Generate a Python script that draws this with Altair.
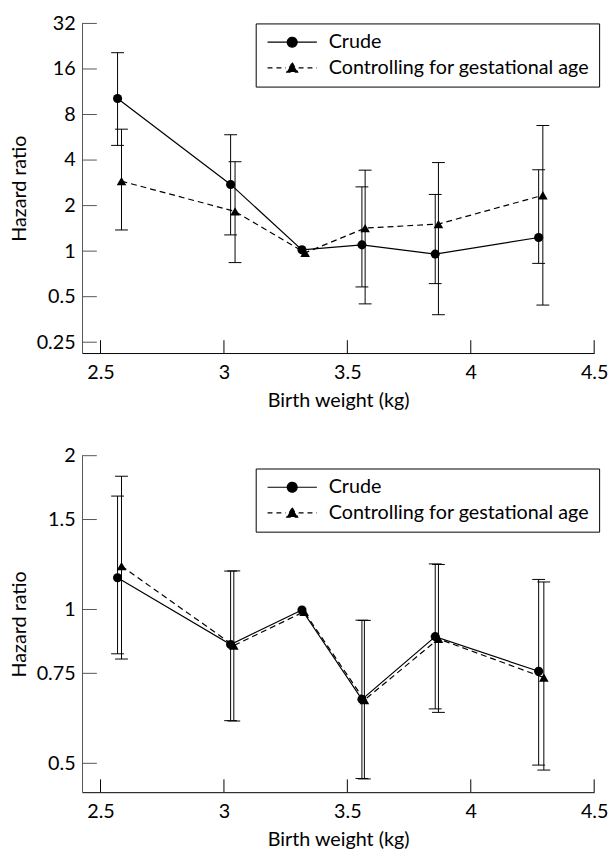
import altair as alt
import pandas as pd

series = ["Crude", "Controlling for gestational age"]
x_ticks = [2.5, 3, 3.5, 4, 4.5]

# ---- top panel ----
bw_crude_top = [2.569, 3.027, 3.316, 3.559, 3.856, 4.275]
bw_adj_top = [2.585, 3.045, 3.329, 3.572, 3.869, 4.292]
hr_crude_top = [10.2, 2.76, 1.02, 1.10, 0.956, 1.23]
lo_crude_top = [5.0, 1.28, None, 0.58, 0.61, 0.83]
hi_crude_top = [20.5, 5.88, None, 2.66, 2.37, 3.45]
hr_adj_top = [2.9, 1.83, 0.975, 1.42, 1.51, 2.34]
lo_adj_top = [1.38, 0.84, None, 0.448, 0.38, 0.44]
hi_adj_top = [6.4, 3.9, None, 3.43, 3.85, 6.77]
y_ticks_top = [0.25, 0.5, 1, 2, 4, 8, 16, 32]
y_domain_top = [0.212, 32]

# ---- bottom panel ----
bw_crude_bot = [2.569, 3.027, 3.316, 3.559, 3.856, 4.275]
bw_adj_bot = [2.585, 3.040, 3.325, 3.569, 3.869, 4.296]
hr_crude_bot = [1.154, 0.854, 0.998, 0.667, 0.885, 0.757]
lo_crude_bot = [0.819, 0.606, None, 0.467, 0.639, 0.496]
hi_crude_bot = [1.667, 1.189, None, 0.953, 1.228, 1.145]
hr_adj_bot = [1.216, 0.850, 0.990, 0.665, 0.876, 0.736]
lo_adj_bot = [0.800, 0.605, None, 0.466, 0.629, 0.485]
hi_adj_bot = [1.823, 1.190, None, 0.952, 1.225, 1.132]
y_ticks_bot = [0.5, 0.75, 1, 1.5, 2]
y_domain_bot = [0.439, 2]

FONT = "Lato"
FS = 20
W = 519

# legend symbols: line + marker (custom SVG paths)
PATH_CRUDE = "M-5,0H5M-1,0A1,1,0,1,1,1,0A1,1,0,1,1,-1,0Z"
PATH_ADJ = "M-5,0H-1.3M1.3,0H5M0,-1.05L1.1,0.85L-1.1,0.85Z"


def frame(bw_c, hr_c, lo_c, hi_c, bw_a, hr_a, lo_a, hi_a):
    rows = []
    for b, h, l, u in zip(bw_c, hr_c, lo_c, hi_c):
        rows.append({"series": series[0], "bw": b, "hr": h, "lo": l, "hi": u})
    for b, h, l, u in zip(bw_a, hr_a, lo_a, hi_a):
        rows.append({"series": series[1], "bw": b, "hr": h, "lo": l, "hi": u})
    return pd.DataFrame(rows)


def panel(df, y_domain, y_ticks, H, legend_y):
    xs = alt.Scale(domain=[2.425, 4.5], nice=False, zero=False)
    ys = alt.Scale(type="log", domain=y_domain, nice=False)
    x_axis = alt.Axis(title="Birth weight (kg)", values=x_ticks, format="~g",
                      ticks=False, tickSize=0, labelPadding=10, titlePadding=8,
                      domainColor="black", labelFlush=False, labelOverlap=False)
    y_axis = alt.Axis(title="Hazard ratio", values=y_ticks, format="~g",
                      ticks=False, tickSize=0, labelPadding=7, titlePadding=3,
                      minExtent=50, maxExtent=50, domainColor="#555",
                      labelFlush=False, labelOverlap=False)
    X = lambda f: alt.X(f, scale=xs, axis=x_axis, title="Birth weight (kg)")
    Y = lambda f: alt.Y(f, scale=ys, axis=y_axis, title="Hazard ratio")
    base = alt.Chart(df)
    is_c = alt.FieldEqualPredicate(field="series", equal=series[0])
    is_a = alt.FieldEqualPredicate(field="series", equal=series[1])

    line_c = base.transform_filter(is_c).mark_line(color="black", strokeWidth=1.2).encode(
        x=X("bw:Q"), y=Y("hr:Q"))
    line_a = base.transform_filter(is_a).mark_line(color="black", strokeWidth=1.2, strokeDash=[6, 4]).encode(
        x=X("bw:Q"), y=Y("hr:Q"))
    ci = base.transform_filter("isValid(datum.lo)")
    whisk = ci.mark_rule(color="black", strokeWidth=1).encode(
        x=X("bw:Q"), y=Y("lo:Q"), y2="hi:Q")
    cap_lo = ci.mark_rule(color="black", strokeWidth=1, xOffset=-6.5, x2Offset=6.5).encode(
        x=X("bw:Q"), x2="bw:Q", y=Y("lo:Q"))
    cap_hi = ci.mark_rule(color="black", strokeWidth=1, xOffset=-6.5, x2Offset=6.5).encode(
        x=X("bw:Q"), x2="bw:Q", y=Y("hi:Q"))
    pt_c = base.transform_filter(is_c).mark_point(shape="circle", filled=True, size=85,
                                                  color="black", opacity=1).encode(
        x=X("bw:Q"), y=Y("hr:Q"))
    pt_a = base.transform_filter(is_a).mark_point(shape="triangle-up", filled=True, size=95,
                                                  color="black", opacity=1).encode(
        x=X("bw:Q"), y=Y("hr:Q"))

    leg = alt.Legend(title=None, orient="none", legendX=176, legendY=legend_y,
                     labelFont=FONT, labelFontSize=FS, labelColor="black", labelLimit=500,
                     strokeColor="black", fillColor="white", padding=9,
                     symbolSize=100, symbolOffset=18, labelOffset=27, rowPadding=6,
                     symbolStrokeWidth=1.2, cornerRadius=0)
    carrier = base.mark_point(filled=False, fill="black", stroke="black", size=0,
                              strokeWidth=1.2, opacity=1).encode(
        x=X("bw:Q"), y=Y("hr:Q"),
        shape=alt.Shape("series:N", scale=alt.Scale(domain=series, range=[PATH_CRUDE, PATH_ADJ]), legend=leg),
        strokeDash=alt.StrokeDash("series:N", scale=alt.Scale(domain=series, range=[[1, 0], [5, 4]]), legend=leg))

    yt = pd.DataFrame({"v": y_ticks})
    xt = pd.DataFrame({"v": x_ticks})
    ytick = alt.Chart(yt).mark_rule(color="#555", strokeWidth=1).encode(
        y=Y("v:Q"), x=alt.value(0), x2=alt.value(15))
    xtick = alt.Chart(xt).mark_rule(color="black", strokeWidth=1).encode(
        x=X("v:Q"), y=alt.value(H), y2=alt.value(H - 13))

    return alt.layer(line_c, line_a, whisk, cap_lo, cap_hi, pt_c, pt_a, carrier, ytick, xtick).properties(
        width=W, height=H)


df_top = frame(bw_crude_top, hr_crude_top, lo_crude_top, hi_crude_top,
               bw_adj_top, hr_adj_top, lo_adj_top, hi_adj_top)
df_bot = frame(bw_crude_bot, hr_crude_bot, lo_crude_bot, hi_crude_bot,
               bw_adj_bot, hr_adj_bot, lo_adj_bot, hi_adj_bot)

top = panel(df_top, y_domain_top, y_ticks_top, 334, 0)
bot = panel(df_bot, y_domain_bot, y_ticks_bot, 341, 13)

chart = alt.vconcat(top, bot, spacing=36).resolve_scale(
    x="independent", y="independent", shape="independent", strokeDash="independent"
).resolve_legend(shape="independent", strokeDash="independent").properties(
    padding={"left": 2, "top": 0, "right": 0, "bottom": 0}
).configure_view(stroke=None).configure_axis(
    labelFont=FONT, titleFont=FONT, labelFontSize=FS, titleFontSize=FS,
    labelColor="black", titleColor="black", titleFontWeight="normal", grid=False
)

chart.save("out.html", embed_options={"renderer": "svg", "actions": False})
